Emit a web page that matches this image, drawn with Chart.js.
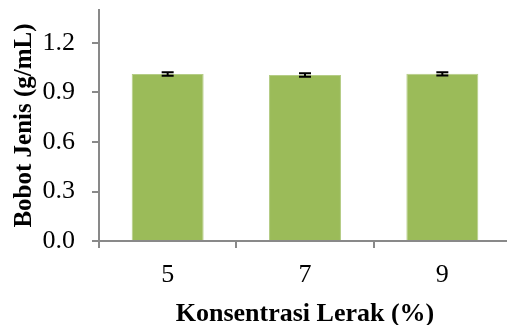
<!DOCTYPE html>
<html>
<head>
<meta charset="utf-8">
<script src="https://cdn.jsdelivr.net/npm/chart.js@4/dist/chart.umd.min.js"></script>
<style>
  html, body { margin: 0; padding: 0; background: #fff; overflow: hidden; }
  #wrap { width: 511px; height: 325px; }
</style>
</head>
<body>
<div id="wrap"><canvas id="c" width="511" height="325"></canvas></div>
<script>
// Specific gravity of the formula at each soapnut (lerak) concentration
const categories = ['5', '7', '9'];
const density = [1.012, 1.006, 1.013];
const densityErr = [0.01, 0.01, 0.01];
const yTicks = [0, 0.3, 0.6, 0.9, 1.2];

const axisGray = '#898989';
const serif = '"Liberation Serif", "Times New Roman", serif';

// Draws the ± error whiskers on top of each bar
const errorBars = {
  id: 'errorBars',
  afterDatasetsDraw(chart) {
    const { ctx, scales: { y } } = chart;
    const meta = chart.getDatasetMeta(0);
    ctx.save();
    ctx.strokeStyle = '#000';
    ctx.lineWidth = 2;
    meta.data.forEach((bar, i) => {
      const x = bar.x;
      const hi = y.getPixelForValue(density[i] + densityErr[i]);
      const lo = y.getPixelForValue(density[i] - densityErr[i]);
      const cap = 6;
      ctx.beginPath();
      ctx.moveTo(x, hi); ctx.lineTo(x, lo);
      ctx.moveTo(x - cap, hi); ctx.lineTo(x + cap, hi);
      ctx.moveTo(x - cap, lo); ctx.lineTo(x + cap, lo);
      ctx.stroke();
    });
    ctx.restore();
  }
};

new Chart(document.getElementById('c'), {
  type: 'bar',
  data: {
    labels: categories,
    datasets: [{
      data: density,
      backgroundColor: '#9BBB59',
      borderColor: '#B5CD86',
      borderWidth: 1,
      categoryPercentage: 1,
      barPercentage: 0.524
    }]
  },
  options: {
    responsive: false,
    animation: false,
    layout: { padding: { top: 10, right: 0, bottom: 0, left: 0 } },
    plugins: { legend: { display: false }, tooltip: { enabled: false } },
    scales: {
      x: {
        offset: true,
        grid: {
          offset: true,
          drawOnChartArea: false,
          color: axisGray,
          lineWidth: 2,
          tickLength: 7
        },
        border: { color: axisGray, width: 2 },
        ticks: {
          color: '#000',
          padding: 12,
          font: { family: serif, size: 26 }
        },
        title: {
          display: true,
          text: 'Konsentrasi Lerak (%)',
          color: '#000',
          font: { family: serif, size: 26, weight: 'bold' },
          padding: { top: 0, bottom: -5 }
        },
        afterFit(s) { s.height = 84; s.paddingLeft = 0; s.paddingRight = 0; }
      },
      y: {
        min: 0,
        max: 1.4,
        afterBuildTicks(s) { s.ticks = yTicks.map(v => ({ value: v })); },
        grid: {
          drawOnChartArea: false,
          color: axisGray,
          lineWidth: 2,
          tickLength: 7
        },
        border: { color: axisGray, width: 2 },
        ticks: {
          color: '#000',
          padding: 17,
          font: { family: serif, size: 26 },
          callback: v => Number(v).toFixed(1)
        },
        title: {
          display: true,
          text: 'Bobot Jenis (g/mL)',
          color: '#000',
          font: { family: serif, size: 25, weight: 'bold' },
          padding: { top: 10, bottom: 0 }
        },
        afterFit(s) { s.width = 99; s.paddingTop = 0; s.paddingBottom = 0; }
      }
    }
  },
  plugins: [errorBars]
});
</script>
</body>
</html>
